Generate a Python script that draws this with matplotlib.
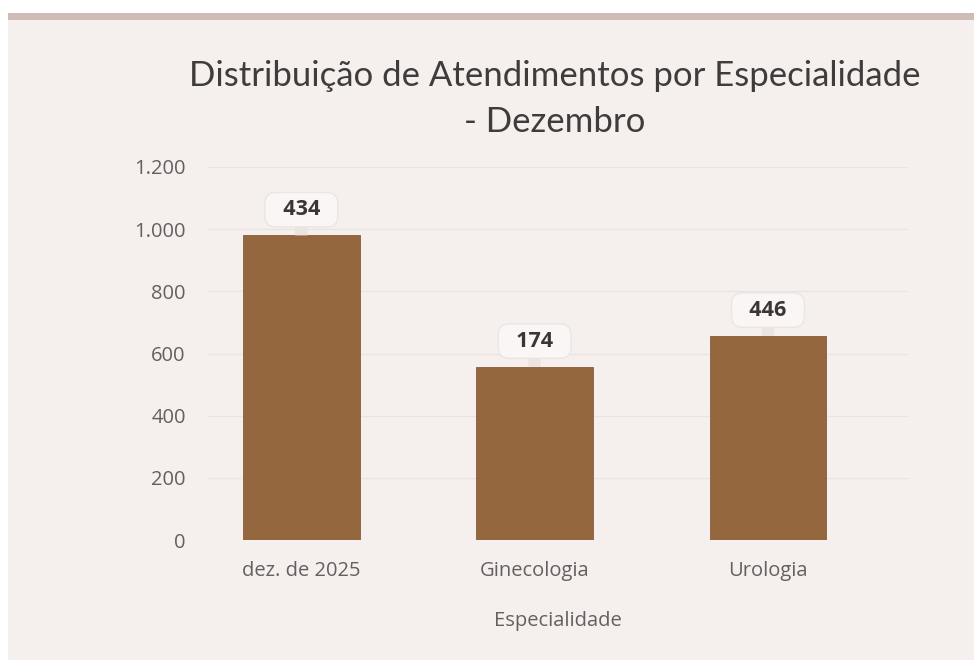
import matplotlib.pyplot as plt
from matplotlib.patches import Rectangle

# chart data
categories = ["dez. de 2025", "Ginecologia", "Urologia"]
bar_heights = [980, 557, 657]
bar_labels = ["434", "174", "446"]
y_ticks = [0, 200, 400, 600, 800, 1000, 1200]
y_tick_labels = ["0", "200", "400", "600", "800", "1.000", "1.200"]

BG = "#f5f0ee"
BAR = "#95673f"
TEXT = "#656060"

plt.rcParams["font.family"] = ["Open Sans", "DejaVu Sans"]

fig = plt.figure(figsize=(9.74, 6.6), dpi=100)
fig.patch.set_facecolor("white")

# page background and the taupe strip at the top
fig.patches.append(Rectangle((8 / 974, 0), 1, 1 - 20 / 660, transform=fig.transFigure,
                             facecolor=BG, edgecolor="none", zorder=-2))
fig.patches.append(Rectangle((8 / 974, 1 - 20 / 660), 1, 7 / 660, transform=fig.transFigure,
                             facecolor="#cdbdb6", edgecolor="none", zorder=-1))

ax = fig.add_axes([208 / 974, 1 - 540 / 660, 700 / 974, 373 / 660])
ax.set_facecolor("none")

x = list(range(len(categories)))
ax.bar(x, bar_heights, width=0.5, color=BAR, edgecolor="#8a5c38", linewidth=0.6, zorder=3)

for xi, h, lab in zip(x, bar_heights, bar_labels):
    # small stem between bar top and label box
    ax.annotate("", xy=(xi, h), xytext=(0, 9), textcoords="offset points",
                arrowprops=dict(arrowstyle="-", color="#ebe4e1", lw=9, capstyle="butt",
                                shrinkA=0, shrinkB=0), zorder=4)
    ax.annotate(f"  {lab}  ", xy=(xi, h), xytext=(0, 18.5), textcoords="offset points",
                ha="center", va="center", fontsize=15.5, fontweight="bold", color="#3a3634",
                bbox=dict(boxstyle="round,pad=0.31,rounding_size=0.5", facecolor="#f9f6f5",
                          edgecolor="#ece5e2", linewidth=1.0),
                zorder=5)

ax.set_xlim(-0.4, 2.6)
ax.set_ylim(0, 1200)
ax.set_yticks(y_ticks)
ax.set_yticklabels(y_tick_labels)
ax.set_xticks(x)
ax.set_xticklabels(categories)
ax.tick_params(axis="both", length=0, labelsize=14.5, colors=TEXT)
ax.tick_params(axis="y", pad=16)
ax.tick_params(axis="x", pad=15)
ax.grid(axis="y", color="#ebe3e0", linewidth=1.0, zorder=0)
for s in ax.spines.values():
    s.set_visible(False)

ax.set_xlabel("Especialidade", fontsize=14.5, color=TEXT, labelpad=22)

fig.text(555 / 974, 1 - 99 / 660, "Distribuição de Atendimentos por Especialidade\n- Dezembro",
         ha="center", va="center", fontsize=25, color="#403c3b", linespacing=1.55,
         family=["Lato", "DejaVu Sans"])

fig.savefig("out.png", dpi=100, facecolor=fig.get_facecolor())
